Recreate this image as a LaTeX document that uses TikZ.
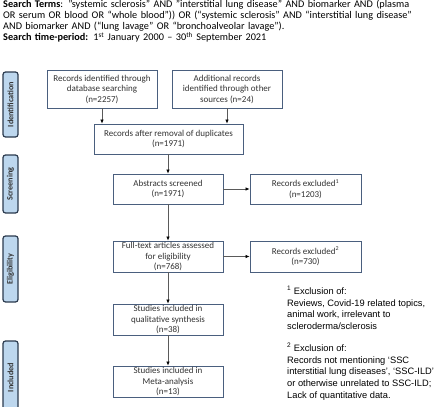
\documentclass[tikz,border=0pt]{standalone}
\usepackage{fontspec}
\setmainfont{Carlito}
\newfontfamily\arialfont{Liberation Sans}
\usetikzlibrary{arrows.meta}
\definecolor{boxline}{HTML}{4A5F7E}
\definecolor{sidefill}{HTML}{BDD7EE}
\definecolor{sideline}{HTML}{2B3A4E}
\definecolor{txt}{HTML}{333333}
\definecolor{conn}{HTML}{5A5A5A}
\tikzset{
  flowbox/.style={draw=boxline, line width=0.9pt, fill=white, align=center, text=txt,
    font=\fontsize{9}{10.5}\selectfont, inner sep=1pt, minimum height=30pt},
  sidebox/.style={draw=sideline, fill=sidefill, line width=1.2pt, rounded corners=2.5pt,
    rotate=90, minimum height=15pt, inner sep=0pt, text=txt,
    font=\fontsize{8.2}{9}\selectfont\bfseries},
  conn/.style={draw=conn, line width=0.7pt, -{Latex[length=4pt,width=3.6pt,color=black]}}
}
\begin{document}
\begin{tikzpicture}[x=1pt,y=-1pt]
\useasboundingbox (0,0) rectangle (440,407);
% header
\node[anchor=north west, inner sep=0pt, text width=440pt, align=left, text=black,
  font=\fontsize{10.25}{11}\selectfont] (hdr) at (3,0)
  {\textbf{Search Terms}: "systemic sclerosis" AND "interstitial lung disease" AND biomarker AND (plasma\\
   OR serum OR blood OR “whole blood”)) OR (“systemic sclerosis” AND “interstitial lung disease”\\
   AND biomarker AND (“lung lavage” OR “bronchoalveolar lavage”).\\
   \textbf{Search time-period:} 1\textsuperscript{st} January 2000 – 30\textsuperscript{th} September 2021};
% side labels
\node[sidebox, minimum width=65pt] (sid) at (10.5,104.5) {Identification};
\node[sidebox, minimum width=58pt] (sscr) at (10.5,184) {Screening};
\node[sidebox, minimum width=66pt] (selg) at (10.5,269) {Eligibility};
\node[sidebox, minimum width=73pt] (sinc) at (10.5,377.5) {Included};
% boxes
\node[flowbox, minimum width=110pt, minimum height=38pt] (b1) at (102,89)
  {Records identified through\\database searching\\(n=2257)};
\node[flowbox, minimum width=110pt, minimum height=38pt] (b2) at (227,89)
  {Additional records\\identified through other\\sources (n=24)};
\node[flowbox, minimum width=149pt] (b3) at (168.5,139)
  {Records after removal of duplicates\\(n=1971)};
\node[flowbox, minimum width=110pt] (b4) at (168,189)
  {Abstracts screened\\(n=1971)};
\node[flowbox, minimum width=111pt] (b5) at (305.5,189)
  {Records excluded\textsuperscript{1}\\(n=1203)};
\node[flowbox, minimum width=110pt, minimum height=31pt] (b6) at (168,256.5)
  {Full-text articles assessed\\for eligibility\\(n=768)};
\node[flowbox, minimum width=111pt, minimum height=31pt] (b7) at (305.5,256.5)
  {Records excluded\textsuperscript{2}\\(n=730)};
\node[flowbox, minimum width=110pt, minimum height=31pt] (b8) at (168,319.5)
  {Studies included in\\qualitative synthesis\\(n=38)};
\node[flowbox, minimum width=110pt, minimum height=31pt] (b9) at (168,381.5)
  {Studies included in\\Meta-analysis\\(n=13)};
% connectors
\draw[conn] (b1.south) -- (b1.south |- b3.north);
\draw[conn] (b2.south) -- (b2.south |- b3.north);
\draw[conn] (b4.north |- b3.south) -- (b4.north);
\draw[conn] (b4.east) -- (b5.west);
\draw[conn] (b4.south) -- (b6.north);
\draw[conn] (b6.east) -- (b7.west);
\draw[conn] (b6.south) -- (b8.north);
\draw[conn] (b8.south) -- (b9.north);
% footnotes
\node[anchor=north west, inner sep=0pt, align=left, text=black,
  font=\arialfont\fontsize{9.3}{11.7}\selectfont] (fn) at (287,286)
  {\textsuperscript{1} Exclusion of:\\
   Reviews, Covid-19 related topics,\\
   animal work, irrelevant to\\
   scleroderma/sclerosis\\[10pt]
   \textsuperscript{2} Exclusion of:\\
   Records not mentioning ‘SSC\\
   interstitial lung diseases’, ‘SSC-ILD’\\
   or otherwise unrelated to SSC-ILD;\\
   Lack of quantitative data.};
\end{tikzpicture}
\end{document}
